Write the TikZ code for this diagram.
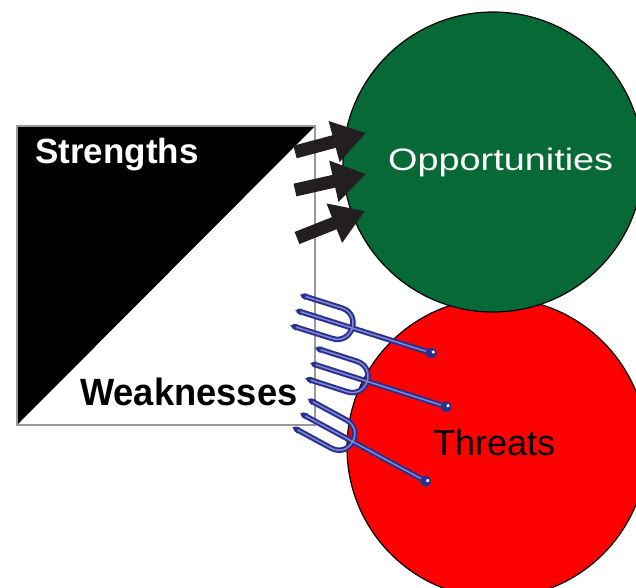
\documentclass[tikz,border=0pt]{standalone}
\usepackage{fontspec}
\setmainfont{Liberation Sans}
\usetikzlibrary{arrows.meta,positioning}

\definecolor{oppgreen}{RGB}{6,105,54}
\definecolor{threatred}{RGB}{255,0,0}
\definecolor{arrowblack}{RGB}{35,31,32}
\definecolor{forkblue}{RGB}{42,48,142}
\definecolor{forklight}{RGB}{130,135,210}

\tikzset{
  bubble/.style={circle,draw=black,line width=1.2pt,minimum size=300pt,inner sep=0pt},
  push/.style={arrowblack,line width=13pt,-{Triangle[length=33pt,width=40pt]}},
  tine/.style={forkblue,line width=5.5pt,line cap=round},
  shine/.style={forklight,line width=1.5pt},
  word/.style={anchor=base west,inner sep=0pt},
  % a pitchfork lying along +x, tips at the origin
  trident/.pic={
    \draw[tine,{Stealth[length=7pt,width=7pt]}-{Stealth[length=7pt,width=7pt]}]
      (0,-16) -- (44,-16) .. controls (65.3,-16) and (65.3,16) .. (44,16) -- (0,16);
    \draw[tine,{Stealth[length=7pt,width=7pt]}-] (0,0) -- (143,0);
    \draw[shine] (6,-16) -- (44,-16) .. controls (65.3,-16) and (65.3,16) .. (44,16) -- (6,16);
    \draw[shine] (6,0) -- (139,0);
    \fill[forkblue] (143,0) circle[radius=5.5];
    \fill[white] (144.5,-1.5) circle[radius=1.8];
  }
}

\begin{document}
\begin{tikzpicture}[x=1pt,y=-1pt]
\useasboundingbox (0,0) rectangle (636,587);

% square split along the diagonal
\fill[black] (17,126) -- (315,126) -- (17,425) -- cycle;
\draw[gray!80,line width=1.3pt] (17,126) rectangle (315,425);

% the two circles
\node[bubble,fill=threatred] (thr) at (497,448) {};
\node[bubble,fill=oppgreen] (opp) at (493,162) {};

% labels
\node[word,white,font=\bfseries\fontsize{35}{40}\selectfont] (str) at (35,163) {Strengths};
\node[word,font=\bfseries\fontsize{38}{44}\selectfont] (weak) at (80,405) {\scalebox{0.955}[1]{Weaknesses}};
\node[word,white,font=\fontsize{31}{36}\selectfont] (opptext) at (388,170) {\scalebox{1.22}[1]{Opportunities}};
\node[word,font=\fontsize{36}{42}\selectfont] (thrtext) at (433,455) {Threats};

% arrows into the green circle
\coordinate (s1) at (295,152); \coordinate (o1) at (366,133);
\coordinate (s2) at (295,190); \coordinate (o2) at (366,174);
\coordinate (s3) at (297,238); \coordinate (o3) at (365,211);
\draw[push] (s1) -- (o1);
\draw[push] (s2) -- (o2);
\draw[push] (s3) -- (o3);

% pitchforks
\pic[rotate=-17.5] at (295,310) {trident};
\pic[rotate=-17.8] at (310,363) {trident};
\pic[rotate=-28.5] at (300,413) {trident};
\end{tikzpicture}
\end{document}
